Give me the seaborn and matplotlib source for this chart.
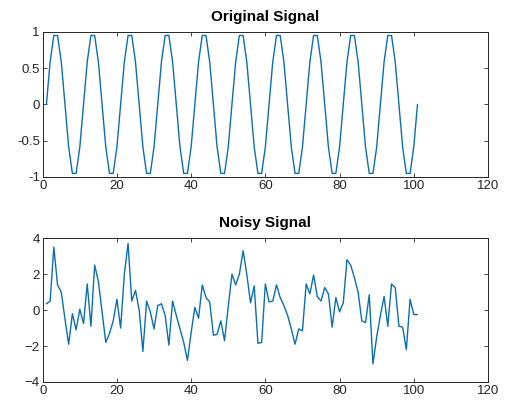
import numpy as np
import pandas as pd
import matplotlib
matplotlib.use("Agg")
import matplotlib.pyplot as plt
import seaborn as sns

sns.set_style("ticks")
plt.rcParams['font.family'] = ['Liberation Sans', 'DejaVu Sans']

# sample index 1..101
n = list(range(1, 102))

original = [
    0, 0.588, 0.951, 0.951, 0.588, 0, -0.588, -0.951, -0.951, -0.588,
    0, 0.588, 0.951, 0.951, 0.588, 0, -0.588, -0.951, -0.951, -0.588,
    0, 0.588, 0.951, 0.951, 0.588, 0, -0.588, -0.951, -0.951, -0.588,
    0, 0.588, 0.951, 0.951, 0.588, 0, -0.588, -0.951, -0.951, -0.588,
    0, 0.588, 0.951, 0.951, 0.588, 0, -0.588, -0.951, -0.951, -0.588,
    0, 0.588, 0.951, 0.951, 0.588, 0, -0.588, -0.951, -0.951, -0.588,
    0, 0.588, 0.951, 0.951, 0.588, 0, -0.588, -0.951, -0.951, -0.588,
    0, 0.588, 0.951, 0.951, 0.588, 0, -0.588, -0.951, -0.951, -0.588,
    0, 0.588, 0.951, 0.951, 0.588, 0, -0.588, -0.951, -0.951, -0.588,
    0, 0.588, 0.951, 0.951, 0.588, 0, -0.588, -0.951, -0.951, -0.588,
    0,
]

noisy = [
    0.35, 0.5, 3.5, 1.4, 1.0, -0.5, -1.9, -0.2, -1.1, 0.05,
    -0.75, 1.45, -0.9, 2.5, 1.6, -0.1, -1.8, -1.3, -0.6, 0.6,
    -1.0, 2.0, 3.7, 0.5, 1.1, 0.0, -2.3, 0.5, -0.1, -1.05,
    0.25, 0.35, -0.3, -1.95, 0.5, -0.3, -1.05, -1.8, -2.8, -1.25,
    0.15, -0.45, 1.4, 0.7, 0.45, -1.4, -1.35, -0.6, -1.7, 0.2,
    2.0, 1.4, 2.0, 3.3, 2.0, 0.4, 1.35, -1.85, -1.8, 1.45,
    0.45, 0.5, 1.4, 0.7, 0.25, -0.3, -1.05, -1.9, -1.05, -1.15,
    1.45, 0.9, 1.95, 0.75, 0.5, 1.25, 0.9, -0.95, 0.7, -0.1,
    0.4, 2.8, 2.5, 1.8, 1.0, -0.6, -0.7, 0.85, -3.0, -1.5,
    -0.3, 0.75, -0.9, 1.45, 1.25, -0.9, -0.95, -2.2, 0.6, -0.25,
    -0.25,
]

x_ticks = [0, 20, 40, 60, 80, 100, 120]
top_yticks = [-1, -0.5, 0, 0.5, 1]
top_ylabels = ["-1", "-0.5", "0", "0.5", "1"]
bot_yticks = [-4, -2, 0, 2, 4]

df = pd.DataFrame({"n": n, "original": original, "noisy": noisy})

line_color = "#0a6fb0"

fig = plt.figure(figsize=(5.06, 4.04), dpi=100)
ax1 = fig.add_axes([0.0844, 0.562, 0.880, 0.359])
ax2 = fig.add_axes([0.0844, 0.0545, 0.880, 0.356])

sns.lineplot(data=df, x="n", y="original", ax=ax1, color=line_color, linewidth=1.0)
sns.lineplot(data=df, x="n", y="noisy", ax=ax2, color=line_color, linewidth=1.0)

ax1.set_ylim(-1, 1)
ax1.set_yticks(top_yticks)
ax1.set_yticklabels(top_ylabels)
ax2.set_ylim(-4, 4)
ax2.set_yticks(bot_yticks)

for ax, title in [(ax1, "Original Signal"), (ax2, "Noisy Signal")]:
    ax.set_xlim(0, 120)
    ax.set_xticks(x_ticks)
    ax.set_xlabel("")
    ax.set_ylabel("")
    ax.set_title(title, fontsize=11, fontweight="bold", color="black", pad=8)
    ax.tick_params(direction="in", length=3, width=0.6, top=True, right=True,
                   labelsize=9.5, colors="#262626", pad=2)
    for s in ax.spines.values():
        s.set_visible(True)
        s.set_linewidth(0.7)
        s.set_color("#262626")

fig.savefig("out.png", dpi=100)
